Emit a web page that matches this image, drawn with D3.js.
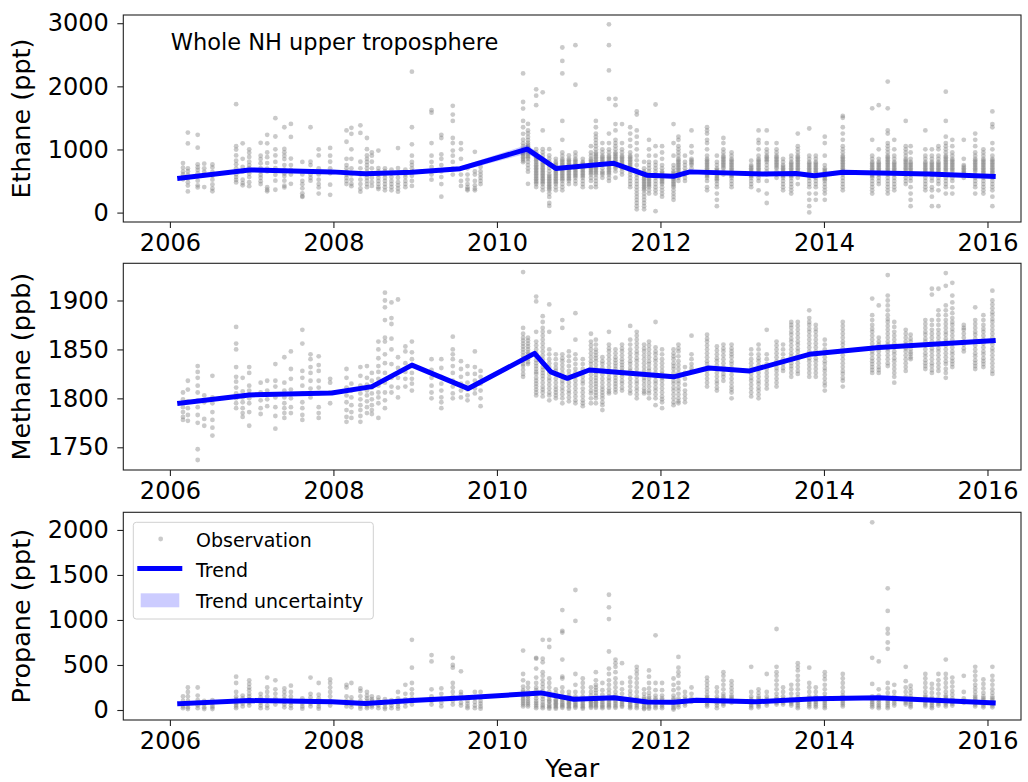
<!DOCTYPE html>
<html><head><meta charset="utf-8">
<script src="https://cdn.jsdelivr.net/npm/d3@7"></script>
<style>
body{margin:0;background:#fff}
svg{display:block}
text{font-family:"DejaVu Sans",sans-serif;fill:#000}
</style>
</head><body>
<svg id="chart" width="1028" height="782"></svg>
<script>
// ---------- DATA ----------
const xTickYears = [2006, 2008, 2010, 2012, 2014, 2016];
const ethaneTicks = [0, 1000, 2000, 3000];
const methaneTicks = [1750, 1800, 1850, 1900];
const propaneTicks = [0, 500, 1000, 1500, 2000];

// dates of the sampling flights (decimal year)
const obsYears = [
 2006.16,2006.22,2006.34,2006.42,2006.52,2006.81,2006.89,2006.97,2007.11,2007.19,
 2007.29,2007.40,2007.48,2007.62,2007.72,2007.82,2007.96,2008.16,2008.22,2008.33,
 2008.41,2008.47,2008.55,2008.63,2008.71,2008.79,2008.88,2008.96,2009.20,2009.32,
 2009.46,2009.56,2009.64,2009.73,2009.80,
 2010.32,2010.38,2010.48,2010.56,2010.64,2010.72,2010.80,2010.88,2010.96,
 2011.05,2011.15,2011.21,2011.29,2011.37,2011.45,2011.53,2011.63,2011.71,2011.80,2011.86,2011.94,
 2012.02,2012.16,2012.22,2012.30,2012.38,2012.57,2012.69,2012.77,2012.87,
 2013.11,2013.20,2013.30,2013.42,2013.50,2013.60,2013.68,2013.82,2013.90,
 2014.01,2014.23,2014.59,2014.67,2014.78,2014.86,
 2015.00,2015.06,2015.24,2015.32,2015.40,2015.49,2015.57,2015.71,2015.85,2015.95,
 2016.06
];

// observed ethane per flight (ppt)
const ethaneObs = [
 "785 712 648 604 566 528","1268 1095 702 655 598 545 482 428 335","1232 1028 765 718 676 622 574 505 432 398",
 "775 702 646 598 405","762 716 645 584 522 446 382 338","1718 1052 998 905 822 765 702 655 606 562 518 478",
 "1098 852 722 648 522 468 432","1002 948 882 806 752 705 662 618 562 482 418","1105 902 848 782 705 652 598 552 498 452",
 "1232 1098 952 878 785 698 652 402 362 338","1495 1205 1002 905 802 705 598 505 362","1352 1008 955 902 848 752 682 618 578 505 425 398",
 "1405 1198 855 752 678 602 455","802 605 502 448 385 305 262 248","1352 805 752 648 602 552 505",
 "1002 905 702 605 522 452 398 302","1025 902 805 702 622 442 282","1302 1122 852 752 702 648 598 552 502 452",
 "1342 1248 1002 852 702 605 522 455 418","1382 1262 805 702 602 522 452 382 332","1182 1005 905 852 802 752 702 648 602 552 505 452 402",
 "952 902 805 702 622 552 482 422","982 705 652 602 552 502 452 402 372","702 655 605 552 502 452 402 352",
 "682 622 562 502 452 402 352","1022 705 622 552 482 432 382 332","682 605 562 502 452 402",
 "2232 1352 1082 902 802 752 702 652 582 502 422","1622 1582 1102 902 802 722 652 602 522","1232 1182 922 852 752 652 562 452 252",
 "1692 1552 1452 1182 1102 982 902 802 702 602","1102 1002 852 602 502 422","702 602 522 452 402 372 352",
 "962 652 602 502 432 382 352","722 652 602 552 502 452",
 "2205 1752 1648 1452 1352 1248 1155 1098 1052 1002 975 948 925 902 878 852 825 798",
 "1405 1302 1255 1198 1148 1105 1075 1048 1025 1002 978 952 925 898 875 852 805 752 700 648 455",
 "1952 1852 1702 1005 955 905 878 852 828 802 775 748 725 702 678 652 628 605 578 552 528 502 478 452 405",
 "1905 1302 1005 955 905 855 805 778 752 728 702 678 652 628 602 578 552 528 502 478 452 402 352",
 "1005 905 855 805 755 705 655 605 578 552 528 502 478 452 428 402 378 352 302 248 152 105",
 "852 805 778 752 728 702 678 652 628 605 578 552 528 502 478 452 402 352",
 "2615 2402 2205 1452 1152 952 902 852 828 802 778 752 728 702 678 652 628 602 578 552 528 502 452 402 352",
 "905 852 828 802 778 752 728 702 678 652 628 602 578 552 528 502 452",
 "2652 2025 952 902 852 828 802 778 752 728 702 678 652 628 602 578 552 502 452",
 "852 802 778 752 728 702 678 652 628 602 578 552 502 452 402",
 "1052 952 902 852 828 802 778 752 728 702 678 652 628 602 552 502 402",
 "1452 1352 1252 1202 1152 1102 1052 1002 952 928 902 878 852 828 802 778 752 728 702 678 652 628 602 552 502 452 402",
 "1102 1002 952 902 878 852 828 802 778 752 702 652 628 602 552",
 "2982 2652 2252 1802 1252 1102 1002 952 902 878 852 828 802 778 752 728 702 678 652 628 602 552 502",
 "1802 1702 1402 1302 1152 1102 1052 1002 952 928 902 878 852 828 802 778 752 728 702 652 552",
 "1402 1102 1002 952 902 878 852 828 802 778 752 728 702 652 602",
 "1352 1252 1152 1052 952 902 878 852 828 802 778 752 728 702 678 652 602 552 502 452 402",
 "1602 1552 1302 1202 1102 1002 902 828 752 678 602 552 502 452 402 352 302 252 202 152 102 52",
 "802 702 652 628 602 578 552 528 502 478 452 428 402 378 352 302 252 202 152 102 52",
 "1152 1002 902 802 752 702 652 602 578 552 528 502 478 452 428 402 352 302",
 "1712 1052 902 802 752 702 652 602 552 502 452 402 352 302 22",
 "1052 952 852 752 702 652 628 602 578 552 528 502 478 452 402 352 302 252",
 "1402 1102 902 752 702 652 628 602 578 552 528 502 478 452 428 402 352 302 252 202",
 "1202 1152 1052 1002 952 902 852 828 802 778 752 728 702 678 652 628 602 578 552 502",
 "902 802 752 702 652 602 552 502",
 "1302 1052 952 852 828 802 778 752 702",
 "1352 1302 1252 1152 1102 1002 902 852 828 802 778 752 728 702 678 652 628 602 578 552 502 402 352",
 "902 802 752 702 678 652 628 602 578 552 528 502 452 402 302 202 102",
 "1182 1102 1002 952 902 878 852 828 802 778 752 728 702 652 602",
 "952 902 852 828 802 778 752 728 702 678 652 628 602 578 552 502 452 402",
 "822 752 728 702 678 652 628 602 578 552 502 452 402",
 "1302 1152 1102 1002 902 852 828 802 778 752 728 702 678 652 628 602 552 502 352",
 "1302 1102 1002 952 902 878 852 828 802 752 702 652 602 502 302 152",
 "1102 1002 952 902 878 852 828 802 778 752 728 702 652 602 552",
 "852 802 752 728 702 678 652 628 602 578 552 502 452 402 352",
 "902 852 802 778 752 728 702 678 652 628 602 578 552 502 452 402 352 302",
 "1252 1052 1002 952 902 878 852 828 802 778 752 728 702 678 652 602 552 452",
 "1332 902 852 802 778 752 728 702 678 652 628 602 578 552 502 452 402 302 202 102 2",
 "902 852 802 778 752 728 702 678 652 628 602 578 552 502 452 402 302 202",
 "1202 1102 902 752 702 678 652 628 602 578 552 528 502 452 402 352 302 202",
 "1532 1502 1352 1252 1152 1052 1002 952 902 878 852 828 802 778 752 728 702 678 652 628 602 552 502 452 402 352",
 "1652 1152 902 852 802 778 752 728 702 678 652 628 602 578 552 502 452 402 352 302",
 "1702 1002 852 802 778 752 728 702 678 652 602 552 502 452",
 "2075 1652 1302 1252 1102 1052 1002 952 902 878 852 828 802 778 752 728 702 678 652 628 602 552 502 452 402 352 302",
 "1152 1002 902 852 802 778 752 728 702 678 652 628 602 552 502 452 402 352",
 "1452 1052 1002 952 902 852 828 802 778 752 728 702 678 652 602 552 502 452",
 "1052 952 852 802 778 752 728 702 678 652 628 602 552 502 402 302 202 102",
 "1302 1002 902 852 802 778 752 728 702 678 652 628 602 552 502 452 402 352",
 "1002 902 852 802 778 752 728 702 678 652 628 602 552 502 402 352 252 102",
 "1052 1002 902 852 802 778 752 728 702 678 652 628 602 552 502 452 352 102",
 "1915 1452 1202 1102 1052 1002 952 902 878 852 828 802 778 752 728 702 678 652 602 552 502 452 402 302",
 "1152 1052 952 902 852 828 802 778 752 728 702 678 652 602 552 502 402 302",
 "1152 852 752 728 702 678 652 628 602 552",
 "1252 1152 1052 952 902 852 828 802 778 752 728 702 678 652 602 552 502 452 402 302",
 "1002 952 902 852 828 802 778 752 728 702 678 652 628 602 552 502 452 402 352 302",
 "1602 1402 1352 1102 1002 902 852 828 802 778 752 728 702 678 652 628 602 552 502 452 402 352 252 102"
];

// observed methane per flight (ppb)
const methaneObs = [
 "1806 1799 1791 1786 1781 1778","1818 1809 1797 1790 1783 1777","1833 1827 1821 1813 1806 1798 1791 1783 1775 1748 1737",
 "1803 1796 1779 1772","1823 1801 1795 1786 1778 1770 1762","1873 1856 1850 1832 1822 1817 1811 1805 1800 1795 1790",
 "1821 1807 1801 1796 1790 1785 1781","1832 1826 1813 1808 1804 1800 1795 1786 1772","1816 1806 1798 1790 1784",
 "1818 1808 1799 1792","1835 1818 1812 1801 1791 1782 1769","1842 1816 1808 1801 1795 1790 1785 1780",
 "1848 1830 1820 1809 1800 1791 1785","1870 1856 1828 1821 1813 1805 1796 1790 1783 1778","1845 1840 1832 1826 1818 1810 1801",
 "1843 1834 1828 1818 1811 1805 1791 1785 1780","1820 1816 1806 1795","1830 1821 1811 1803 1796 1788 1781 1776",
 "1815 1808 1801 1793 1786 1780","1832 1823 1813 1805 1799 1793 1788 1782 1776","1833 1821 1814 1808 1803 1797 1791 1785",
 "1826 1818 1811 1805 1799 1793 1788 1784","1858 1850 1841 1833 1827 1820 1813 1806 1801 1795 1780",
 "1908 1900 1893 1880 1862 1858 1845 1836 1826 1816 1806 1798 1790","1898 1882 1876 1861 1850 1835 1821 1812 1806",
 "1901 1842 1831 1821 1811 1801","1853 1848 1836 1827 1820 1812","1858 1847 1840 1833 1826 1820 1815 1808",
 "1840 1829 1821 1813 1806 1800","1840 1831 1822 1815 1808 1801 1796 1790","1863 1850 1845 1840 1833 1826 1818 1812 1805 1800",
 "1838 1830 1822 1815 1808 1801","1833 1825 1816 1809 1803 1798","1848 1832 1825 1818 1810 1805","1828 1822 1815 1808 1800 1792",
 "1929 1872 1866 1862 1859 1856 1853 1850 1847 1844 1841 1838 1835 1833 1829 1825 1822",
 "1862 1859 1856 1853 1850 1847 1845 1842 1840 1837 1835",
 "1904 1899 1868 1858 1854 1850 1846 1843 1839 1836 1833 1830 1827 1825 1821 1818 1815 1812 1809 1806 1803",
 "1884 1878 1872 1868 1864 1860 1856 1852 1848 1844 1840 1836 1832 1829 1826 1823 1820 1816 1812 1809 1806 1802",
 "1896 1868 1850 1845 1840 1836 1832 1828 1825 1821 1818 1814 1810 1806 1803 1798",
 "1845 1840 1835 1831 1828 1824 1820 1816 1812 1809 1806 1803 1800",
 "1880 1872 1845 1841 1838 1834 1830 1826 1822 1818 1815 1811 1808 1804 1800 1795",
 "1848 1843 1838 1833 1828 1824 1820 1816 1812 1808 1805 1801 1797",
 "1887 1860 1845 1840 1835 1830 1826 1822 1818 1814 1810 1806 1802 1798 1795",
 "1840 1835 1830 1826 1822 1818 1815 1810 1806 1802 1798 1795 1792",
 "1866 1858 1854 1850 1846 1842 1838 1835 1831 1828 1824 1820 1816 1812 1808 1805 1800 1795",
 "1860 1855 1850 1847 1844 1841 1838 1834 1830 1827 1824 1821 1818 1815 1812 1809 1806 1803 1800 1795",
 "1842 1838 1835 1831 1828 1824 1820 1816 1812 1809 1806 1803 1800 1796 1793 1788",
 "1868 1855 1851 1848 1844 1840 1836 1832 1828 1825 1821 1818 1814 1810 1807 1805",
 "1850 1846 1842 1839 1836 1833 1830 1827 1824 1821 1818 1815 1812 1809 1806",
 "1855 1851 1848 1844 1840 1837 1834 1831 1828 1825 1822 1818 1815 1811 1808",
 "1874 1860 1855 1850 1846 1842 1838 1835 1831 1828 1824 1820 1816 1812 1808 1805",
 "1868 1864 1860 1856 1852 1848 1845 1841 1838 1834 1830 1826 1822 1818 1815 1811 1808 1804 1800",
 "1855 1851 1848 1844 1840 1836 1832 1828 1825 1821 1818 1814 1810 1807 1805",
 "1858 1854 1850 1846 1842 1838 1835 1831 1828 1824 1820 1816 1812 1808 1805 1800",
 "1878 1852 1848 1845 1841 1838 1834 1830 1826 1822 1818 1815 1811 1808 1804 1800 1793",
 "1850 1845 1840 1836 1832 1828 1825 1821 1818 1814 1810 1806 1802 1799 1796 1790",
 "1850 1846 1843 1840 1836 1833 1830 1826 1822 1818 1815 1811 1808 1804 1800 1796 1793",
 "1855 1851 1848 1843 1838 1834 1830 1826 1822 1818 1815 1811 1808 1804 1800 1797 1795",
 "1832 1826 1820 1814 1808 1804 1800 1796",
 "1864 1845 1840 1835 1831 1828",
 "1865 1861 1858 1854 1850 1846 1842 1838 1835 1831 1828 1824 1820 1816 1812",
 "1853 1849 1845 1841 1838 1834 1830 1826 1822 1818 1815 1811 1808",
 "1855 1851 1848 1844 1840 1836 1832 1829 1825 1822 1818",
 "1855 1851 1848 1845 1842 1838 1835 1831 1828 1824 1820 1816 1812 1809 1806 1800",
 "1850 1845 1840 1836 1832 1828 1825 1821 1818 1814 1810 1806 1802",
 "1855 1850 1845 1841 1838 1834 1830 1826 1822 1818 1815 1811 1808 1804 1800",
 "1870 1845 1840 1835 1830 1826 1822 1818 1814 1810",
 "1858 1854 1850 1846 1842 1838 1835 1831 1828 1824 1820 1816 1812",
 "1855 1850 1845 1840 1835 1831 1828",
 "1878 1875 1872 1868 1865 1861 1858 1854 1850 1846 1843 1839 1836 1833 1830 1826 1822",
 "1878 1874 1870 1866 1862 1858 1855 1851 1848 1844 1840 1836 1832 1828 1825",
 "1890 1882 1878 1875 1871 1868 1864 1860 1856 1852 1848 1845 1841 1838 1834 1830 1826 1822",
 "1875 1871 1868 1864 1860 1856 1852 1848 1845 1841 1838 1834 1830 1826 1822",
 "1860 1855 1850 1846 1842 1838 1835 1831 1828 1824 1820 1816 1813 1808",
 "1878 1874 1870 1866 1862 1858 1855 1851 1848 1844 1840 1836 1832 1828 1825 1821 1818 1812",
 "1902 1885 1880 1875 1871 1868 1864 1860 1856 1852 1848 1845 1841 1838 1835 1832 1829 1826",
 "1895 1862 1858 1855 1851 1848 1844 1840 1836 1832 1829 1826",
 "1926 1905 1900 1895 1890 1885 1881 1878 1874 1870 1866 1862 1858 1855 1851 1848 1844 1840 1836 1833",
 "1878 1873 1868 1864 1860 1856 1852 1848 1845 1841 1838 1834 1830 1826 1822 1816",
 "1870 1866 1862 1858 1855 1851 1848 1844 1840 1836 1832 1828",
 "1865 1861 1858 1854 1850 1847 1845 1842 1840",
 "1880 1876 1872 1868 1865 1861 1858 1854 1850 1846 1843 1839 1836 1833 1830",
 "1912 1906 1880 1875 1870 1866 1862 1858 1855 1851 1848 1844 1840 1836 1833 1829 1826",
 "1912 1890 1885 1880 1875 1870 1866 1862 1858 1855 1851 1848 1844 1840 1836 1832 1828",
 "1928 1915 1895 1890 1885 1880 1876 1872 1868 1865 1861 1858 1854 1850 1846 1842 1838 1835 1830 1826 1821",
 "1918 1905 1898 1892 1887 1882 1878 1875 1871 1868 1864 1860 1856 1852 1848 1845 1841 1838 1835 1832",
 "1875 1872 1870 1866 1862 1858 1855 1851 1848",
 "1893 1880 1876 1872 1868 1865 1861 1858 1854 1850 1846 1843 1839 1836 1833 1830",
 "1885 1880 1875 1871 1868 1864 1860 1856 1852 1848 1845 1841 1838 1835 1832",
 "1910 1900 1896 1892 1888 1885 1881 1878 1874 1870 1866 1862 1858 1855 1851 1848 1844 1840 1836 1832 1828 1825"
];

// observed propane per flight (ppt)
const propaneObs = [
 "150 100 70 40 20","250 200 150 100 60 30 10","250 160 110 80 50 20","100 60 30 10","110 80 50 30 10",
 "370 300 200 150 120 100 80 60 40 20","160 130 100 70 40","330 290 250 220 180 150 120 100 80 50",
 "180 140 110 80 50 20","360 250 200 150 100 50 20","330 230 180 130 100 60","240 200 160 120 90 60 30",
 "270 200 150 110 80 50 20","130 100 70 40 15","360 180 140 100 70 40","300 170 130 100 70 40 15",
 "340 300 250 200 150 100 50","280 250 150 100 70 40","300 140 100 60 30","240 210 150 100 70 40 15",
 "200 160 130 100 80 60 40 20","150 120 100 80 50 30","140 110 80 50 20","120 90 60 30 10","110 80 50 20",
 "200 130 100 70 40 15","280 180 120 80 40","780 470 300 230 180 130 100 60","610 540 230 150 100 60",
 "240 180 130 80 40","580 500 470 300 250 200 150 100 60","430 200 170 130 80 50","140 100 70 40 20",
 "200 130 90 50 20","200 140 100 70 40 15",
 "660 400 330 260 220 200 180 160 140 120 100 80 60 40",
 "300 250 200 170 150 125 100 80 60 40",
 "580 570 460 360 300 250 220 190 160 130 100 80 60 40 20",
 "780 570 530 420 380 330 290 250 210 180 150 120 90 60 40 20",
 "780 700 350 300 250 200 170 150 120 100 90 60 45 30 15",
 "230 190 150 120 105 90 75 60 45 30 15",
 "1110 880 860 560 370 350 250 200 150 130 110 90 70 55 40 25",
 "200 160 140 120 105 90 75 60 45 30 15",
 "1333 990 400 280 200 150 130 110 90 70 55 40 25",
 "350 300 250 200 150 125 100 80 60 45 30 15",
 "250 200 160 130 115 100 85 70 55 40 25",
 "420 330 280 250 220 190 160 130 115 100 85 70 55 40 25",
 "300 220 170 130 110 90 70 50 35 20",
 "1280 1140 1010 650 460 400 330 280 230 190 150 130 110 90 70 55 40 25",
 "560 520 480 420 350 300 250 200 160 140 120 100 80 60 40 25",
 "520 300 230 180 130 110 90 70 50 35",
 "360 310 260 210 170 130 110 90 70 50 35 20",
 "480 440 400 350 300 250 200 150 120 100 80 60 40 20",
 "230 180 140 120 100 80 60 40 20 10",
 "440 370 300 240 190 150 130 110 90 70 50 30 15",
 "830 300 220 160 130 110 85 60 40 20",
 "300 220 160 130 110 85 60 40 20",
 "350 280 220 160 130 110 85 60 40 20 5",
 "590 470 420 380 300 240 180 130 105 80 55 30",
 "200 150 120 100 75 50",
 "250 180 130 110 90",
 "360 320 280 240 200 160 140 120 100 80 60 40",
 "250 200 150 120 100 75 50 20",
 "420 380 330 280 230 180 150 130 110 90 70 50",
 "320 280 240 200 160 140 120 100 80",
 "480 200 150 120 100 80 60 40 20",
 "230 190 150 130 110 90 70 50 30",
 "400 200 150 120 100 75 50",
 "900 480 420 380 330 280 230 180 140 120 100 80 60",
 "250 200 150 120 100 80 60",
 "280 230 180 130 110 90 70 50",
 "520 480 440 380 330 280 230 180 140 120 100 80 60 40 20",
 "470 300 250 200 150 130 110 90 70 50 30",
 "250 200 150 130 110 90 70 50 30",
 "420 380 340 280 230 180 140 120 100 80 60 40 20",
 "400 350 300 250 200 160 140 120 100 80 60 40",
 "2085 580 290 150 130 110 90 70 50 30",
 "540 230 160 130 110 85 60 40 20",
 "1352 1100 900 850 750 680 300 240 190 140 120 100 80 60 40 20",
 "280 200 150 125 100 75 50",
 "480 320 250 200 150 125 100 80 60",
 "270 230 190 150 130 110 90 70 50 30",
 "400 350 300 250 200 160 140 120 100 80 60 40",
 "290 240 190 140 120 100 80 60 40 20",
 "400 330 280 230 180 130 110 90 70 50",
 "560 400 350 300 250 200 160 140 120 100 80 60 40",
 "360 310 260 210 170 130 110 90 70 50",
 "380 200 130 105 80",
 "480 430 380 330 280 240 200 160 140 120 100 80 60 40",
 "340 290 240 190 150 130 110 90 70 50 30",
 "480 380 330 280 230 190 150 130 110 90 70 50 30"
];

// fitted trends
const ethaneTrendYears = [2006.12,2006.97,2007.5,2007.98,2008.39,2008.96,2009.55,2010.37,2010.72,2011.43,2011.84,2012.16,2012.36,2013.25,2013.66,2013.88,2014.23,2015.28,2016.07];
const ethaneTrend      = [545,676,660,645,615,640,695,1005,700,780,590,575,645,610,620,585,640,612,572];
const ethaneUnc        = [30,25,25,25,25,25,35,70,30,30,30,30,30,25,25,25,25,25,30];

const methaneTrendYears = [2006.12,2006.97,2007.98,2008.47,2008.96,2009.65,2010.46,2010.66,2010.86,2011.13,2012.16,2012.59,2013.09,2013.82,2014.67,2015.28,2016.07];
const methaneTrend      = [1795,1803.5,1805.5,1812,1834,1810,1846,1827,1820.5,1829,1822,1831,1828,1845,1852,1855,1859];
const methaneUnc        = [1.5,1.5,1.5,1.5,1.5,1.5,2,1.5,1.5,1.5,1.5,1.5,1.5,1.5,1.5,1.5,1.5];

const propaneTrendYears = [2006.12,2006.97,2007.98,2008.39,2008.96,2009.61,2010.54,2010.94,2011.43,2011.84,2012.16,2012.44,2013.17,2013.9,2014.67,2015.28,2016.07];
const propaneTrend      = [70,105,92,72,105,135,190,120,135,88,85,108,92,125,135,110,80];
const propaneUnc        = [15,15,15,15,15,15,20,15,15,15,15,15,15,15,15,15,15];

// ---------- DRAWING ----------
const svg = d3.select("#chart");
const L = 123.3, R = 1021;
const x = d3.scaleLinear().domain([2005.43, 2016.41]).range([L, R]);

const panels = [
  {obs: ethaneObs, ty: ethaneTrendYears, tv: ethaneTrend, tu: ethaneUnc, dom: [-149, 3130], top: 15, bottom: 222, ticks: ethaneTicks, label: "Ethane (ppt)"},
  {obs: methaneObs, ty: methaneTrendYears, tv: methaneTrend, tu: methaneUnc, dom: [1726.8, 1938], top: 263.3, bottom: 470, ticks: methaneTicks, label: "Methane (ppb)"},
  {obs: propaneObs, ty: propaneTrendYears, tv: propaneTrend, tu: propaneUnc, dom: [-111, 2196], top: 512.3, bottom: 720, ticks: propaneTicks, label: "Propane (ppt)"}
];

const BLUE = "#0000ff";
const TICKFS = "24px", LABELFS = "25.5px";
const DOT_R = 2.4, DOT_OP = 0.42;

panels.forEach((p, k) => {
  const y = d3.scaleLinear().domain(p.dom).range([p.bottom, p.top]);
  const g = svg.append("g");
  const cid = "clip" + k;
  svg.append("clipPath").attr("id", cid).append("rect")
     .attr("x", L).attr("y", p.top).attr("width", R - L).attr("height", p.bottom - p.top);
  const plot = g.append("g").attr("clip-path", `url(#${cid})`);

  const pts = [];
  const n = Math.min(p.obs.length, obsYears.length);
  for (let i = 0; i < n; i++) {
    p.obs[i].trim().split(/\s+/).forEach(v => pts.push([obsYears[i], +v]));
  }
  plot.selectAll("circle").data(pts).join("circle")
      .attr("cx", d => x(d[0])).attr("cy", d => y(d[1])).attr("r", DOT_R)
      .attr("fill", "#808080").attr("fill-opacity", DOT_OP);

  const trend = p.ty.map((t, i) => ({t, v: p.tv[i], u: p.tu[i]}));
  plot.append("path").datum(trend)
      .attr("d", d3.area().x(d => x(d.t)).y0(d => y(d.v - d.u)).y1(d => y(d.v + d.u)))
      .attr("fill", BLUE).attr("fill-opacity", 0.2);
  plot.append("path").datum(trend)
      .attr("d", d3.line().x(d => x(d.t)).y(d => y(d.v)))
      .attr("fill", "none").attr("stroke", BLUE).attr("stroke-width", 5)
      .attr("stroke-linejoin", "round").attr("stroke-linecap", "square");

  const xa = g.append("g").attr("transform", `translate(0,${p.bottom})`)
     .call(d3.axisBottom(x).tickValues(xTickYears).tickFormat(d3.format("d")).tickSize(6).tickPadding(6));
  const ya = g.append("g").attr("transform", `translate(${L},0)`)
     .call(d3.axisLeft(y).tickValues(p.ticks).tickFormat(d3.format("d")).tickSize(6).tickPadding(8.5));
  [xa, ya].forEach(a => {
    a.select(".domain").remove();
    a.selectAll(".tick line").attr("stroke", "#222").attr("stroke-width", 1.1);
    a.selectAll(".tick text").attr("font-size", TICKFS).attr("font-family", "DejaVu Sans").attr("fill", "#000");
  });

  g.append("rect").attr("x", L).attr("y", p.top).attr("width", R - L).attr("height", p.bottom - p.top)
   .attr("fill", "none").attr("stroke", "#222").attr("stroke-width", 1.1);

  g.append("text").attr("transform", `translate(30,${(p.top + p.bottom) / 2}) rotate(-90)`)
   .attr("text-anchor", "middle").attr("font-size", LABELFS).text(p.label);
});

svg.append("text").attr("x", 170.7).attr("y", 50).attr("font-size", "22.5px").text("Whole NH upper troposphere");

svg.append("text").attr("x", (L + R) / 2).attr("y", 777).attr("text-anchor", "middle")
   .attr("font-size", LABELFS).text("Year");

const lg = svg.append("g");
lg.append("rect").attr("x", 133.3).attr("y", 522.3).attr("width", 240).attr("height", 96.7).attr("rx", 3)
  .attr("fill", "#fff").attr("fill-opacity", 0.8).attr("stroke", "#d0d0d0").attr("stroke-width", 1);
lg.append("circle").attr("cx", 160.7).attr("cy", 539).attr("r", DOT_R).attr("fill", "#808080").attr("fill-opacity", DOT_OP);
lg.append("line").attr("x1", 137.3).attr("x2", 182.3).attr("y1", 568.5).attr("y2", 568.5)
  .attr("stroke", BLUE).attr("stroke-width", 5);
lg.append("rect").attr("x", 140.7).attr("y", 593.3).attr("width", 38.6).attr("height", 14)
  .attr("fill", BLUE).attr("fill-opacity", 0.2);
[["Observation", 546.7], ["Trend", 577.3], ["Trend uncertainty", 607.7]].forEach(([t, yy]) =>
  lg.append("text").attr("x", 196).attr("y", yy).attr("font-size", "19px").text(t));
</script>
</body></html>
